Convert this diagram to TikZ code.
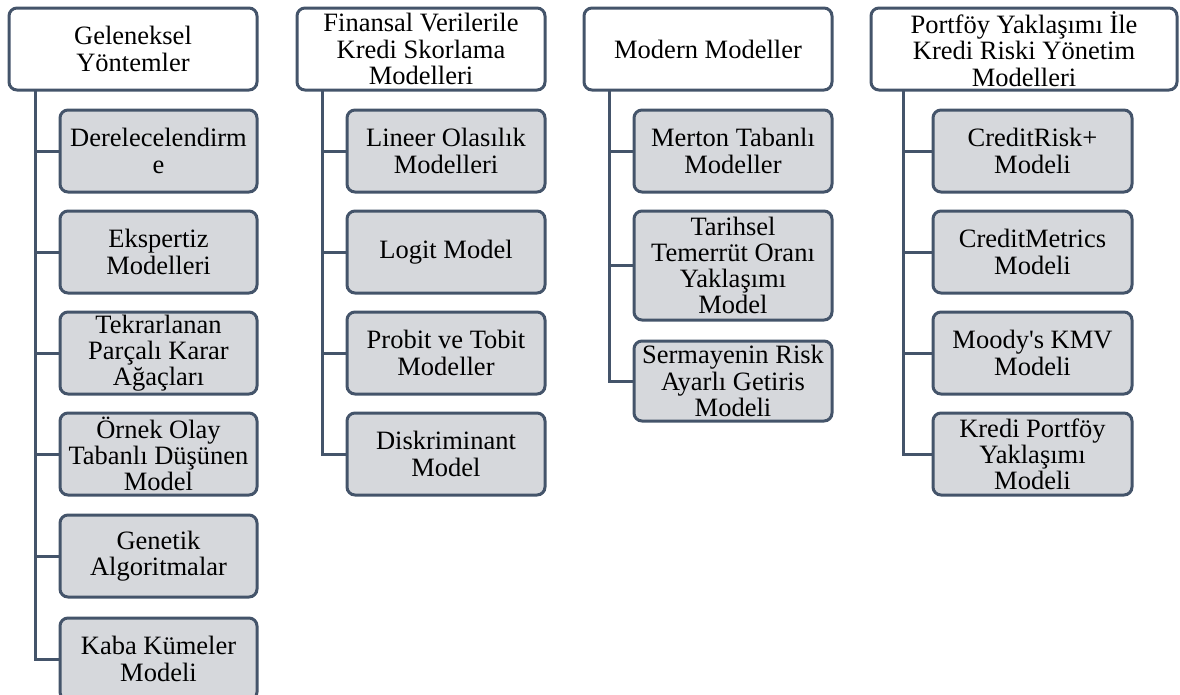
\documentclass[tikz,border=0pt]{standalone}
\usepackage{fontspec}
\setmainfont{Liberation Serif}
\definecolor{lineC}{RGB}{68,84,106}
\definecolor{fillC}{RGB}{214,216,220}
\begin{document}
\begin{tikzpicture}[x=1pt,y=-1pt,
  base/.style={draw=lineC, line width=3pt, rounded corners=8pt, align=center,
    inner sep=0pt, font=\fontsize{26.5}{26.2}\selectfont, text=black},
  topbox/.style={base, fill=white, minimum height=82pt},
  subbox/.style={base, fill=fillC, minimum height=82pt},
  conn/.style={draw=lineC, line width=3pt}]
\useasboundingbox (0,0) rectangle (1180,694);
\clip (0,0) rectangle (1180,694);
% Column 1
\node[topbox, minimum width=248pt] (t1) at (133,49) {Geleneksel\\Yöntemler};
\coordinate (tr1) at (35,90);
\node[subbox, minimum width=197pt] (c11) at (158.5,151) {Derelecelendirm\\e};
\node[subbox, minimum width=197pt] (c12) at (158.5,252) {Ekspertiz\\Modelleri};
\node[subbox, minimum width=197pt] (c13) at (158.5,353) {Tekrarlanan\\Parçalı Karar\\Ağaçları};
\node[subbox, minimum width=197pt] (c14) at (158.5,454) {Örnek Olay\\Tabanlı Düşünen\\Model};
\node[subbox, minimum width=197pt] (c15) at (158.5,556) {Genetik\\Algoritmalar};
\node[subbox, minimum width=197pt] (c16) at (158.5,659) {Kaba Kümeler\\Modeli};
% Column 2
\node[topbox, minimum width=248pt] (t2) at (421,49) {Finansal Verilerile\\Kredi Skorlama\\Modelleri};
\coordinate (tr2) at (322,90);
\node[subbox, minimum width=198pt] (c21) at (446,151) {Lineer Olasılık\\Modelleri};
\node[subbox, minimum width=198pt] (c22) at (446,252) {Logit Model};
\node[subbox, minimum width=198pt] (c23) at (446,353) {Probit ve Tobit\\Modeller};
\node[subbox, minimum width=198pt] (c24) at (446,454) {Diskriminant\\Model};
% Column 3
\node[topbox, minimum width=248pt] (t3) at (708,49) {Modern Modeller};
\coordinate (tr3) at (609,90);
\node[subbox, minimum width=198pt] (c31) at (733,151) {Merton Tabanlı\\Modeller};
\node[subbox, minimum width=198pt, minimum height=109pt] (c32) at (733,265.5) {Tarihsel\\Temerrüt Oranı\\Yaklaşımı\\Model};
\node[subbox, minimum width=198pt, minimum height=80pt] (c33) at (733,381) {Sermayenin Risk\\Ayarlı Getiris\\Modeli};
% Column 4
\node[topbox, minimum width=306pt] (t4) at (1024,49) {Portföy Yaklaşımı İle\\Kredi Riski Yönetim\\Modelleri};
\coordinate (tr4) at (903,90);
\node[subbox, minimum width=199pt] (c41) at (1032.5,151) {CreditRisk+\\Modeli};
\node[subbox, minimum width=199pt] (c42) at (1032.5,252) {CreditMetrics\\Modeli};
\node[subbox, minimum width=199pt] (c43) at (1032.5,353) {Moody\textquotesingle s KMV\\Modeli};
\node[subbox, minimum width=199pt] (c44) at (1032.5,454) {Kredi Portföy\\Yaklaşımı\\Modeli};
% Connectors
\draw[conn] (tr1) |- (c16.west);
\foreach \c in {c11,c12,c13,c14,c15}{\draw[conn] (tr1 |- \c.west) -- (\c.west);}
\draw[conn] (tr2) |- (c24.west);
\foreach \c in {c21,c22,c23}{\draw[conn] (tr2 |- \c.west) -- (\c.west);}
\draw[conn] (tr3) |- (c33.west);
\foreach \c in {c31,c32}{\draw[conn] (tr3 |- \c.west) -- (\c.west);}
\draw[conn] (tr4) |- (c44.west);
\foreach \c in {c41,c42,c43}{\draw[conn] (tr4 |- \c.west) -- (\c.west);}
\end{tikzpicture}
\end{document}
